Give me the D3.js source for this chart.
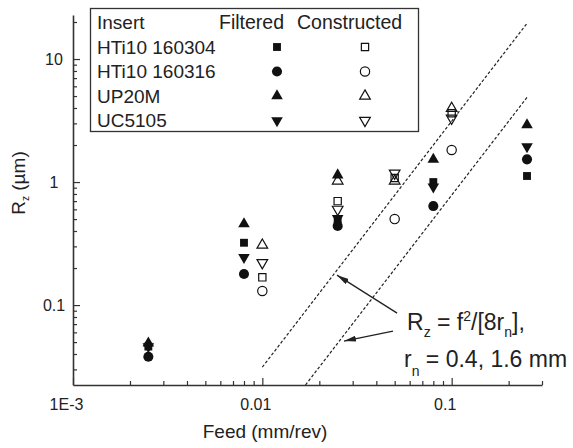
<!DOCTYPE html>
<html>
<head>
<meta charset="utf-8">
<script src="https://cdn.jsdelivr.net/npm/d3@7"></script>
<style>
  body { margin: 0; background: #fff; }
  text { font-family: "Liberation Sans", Arial, sans-serif; fill: #222; }
</style>
</head>
<body>
<svg id="chart" width="573" height="448"></svg>
<script>
// data
const inserts = ["HTi10 160304", "HTi10 160316", "UP20M", "UC5105"];

// filtered (solid markers)
const feedFiltered = [0.0025, 0.008, 0.025, 0.08, 0.25];
const rzFiltered160304 = [0.046, 0.321, 0.50, 1.00, 1.12];
const rzFiltered160316 = [0.038, 0.179, 0.44, 0.638, 1.53];
const rzFilteredUP20M  = [0.049, 0.456, 1.14, 1.53, 2.91];
const rzFilteredUC5105 = [0.046, 0.244, 0.507, 0.916, 1.94];

// constructed (open markers)
const feedConstructed = [0.01, 0.025, 0.05, 0.1];
const rzConstructed160304 = [0.168, 0.70, 1.08, 3.62];
const rzConstructed160316 = [0.130, null, 0.50, 1.82];
const rzConstructedUP20M  = [0.307, 1.02, 1.02, 3.97];
const rzConstructedUC5105 = [0.221, 0.60, 1.18, 3.30];

// model lines Rz = f^2/[8rn], end points
const lineFeed04 = [0.01, 0.25];
const lineRz04   = [0.0313, 19.5];
const lineFeed16 = [0.0169, 0.25];
const lineRz16   = [0.0224, 4.88];

// axis ticks
const xMajor = [0.001, 0.01, 0.1];
const xTickLabels = ["1E-3", "0.01", "0.1"];
const yMajor = [0.1, 1, 10];
const yTickLabels = ["0.1", "1", "10"];

var svg = d3.select("#chart");

var x = d3.scaleLog().domain([0.001, 0.3]).range([73, 542]);
var y = d3.scaleLog().domain([0.0224, 22.8]).range([385, 15]);

//minor ticks
var xMinor = [], yMinor = [];
[0.001, 0.01, 0.1].forEach(function(dec){
    for (var k = 2; k <= 9; k++) if (k * dec <= 0.3001) xMinor.push(k * dec);
});
[0.01, 0.1, 1, 10].forEach(function(dec){
    for (var k = 2; k <= 9; k++) {
        var v = k * dec;
        if (v >= 0.0224 && v <= 22.8) yMinor.push(v);
    }
});

//x axis
svg.append("g")
    .attr("transform", "translate(0,385)")
    .call(d3.axisBottom(x).tickValues(xMinor).tickFormat("").tickSize(-4).tickSizeOuter(0))
    .call(g => g.select(".domain").remove());

var xAxisGroup = svg.append("g")
    .attr("transform", "translate(0,385)")
    .call(d3.axisBottom(x).tickValues(xMajor).tickFormat((d, i) => xTickLabels[i])
        .tickSize(-7).tickSizeOuter(0).tickPadding(14));
xAxisGroup.selectAll("text").attr("dx", -7).attr("font-size", "16px")
    .attr("font-family", null).style("fill", "#222");

//y axis
svg.append("g")
    .attr("transform", "translate(73,0)")
    .call(d3.axisLeft(y).tickValues(yMinor).tickFormat("").tickSize(-4).tickSizeOuter(0))
    .call(g => g.select(".domain").remove());

var yAxisGroup = svg.append("g")
    .attr("transform", "translate(73,0)")
    .call(d3.axisLeft(y).tickValues(yMajor).tickFormat((d, i) => yTickLabels[i])
        .tickSize(-7).tickSizeOuter(0));
yAxisGroup.selectAll("text").attr("x", -19).attr("text-anchor", "middle")
    .attr("font-size", "16px").attr("font-family", null).style("fill", "#222");

svg.selectAll(".domain").attr("stroke", "#333").attr("stroke-width", 1.6);
svg.selectAll(".tick line").attr("stroke", "#333").attr("stroke-width", 1.2);

//axis titles
svg.append("text")
    .attr("x", 265)
    .attr("y", 438)
    .attr("font-size", "19px")
    .attr("text-anchor", "middle")
    .text("Feed (mm/rev)");

var yTitle = svg.append("text")
    .attr("transform", "translate(25,183) rotate(-90)")
    .attr("font-size", "19px")
    .attr("text-anchor", "middle");
yTitle.append("tspan").text("R");
yTitle.append("tspan").attr("font-size", "10px").attr("dy", 4).text("z");
yTitle.append("tspan").attr("dy", -4).text(" (\u00b5m)");

//model lines
var modelLines = [
    {feed: lineFeed04, rz: lineRz04},
    {feed: lineFeed16, rz: lineRz16}
];
var line = d3.line().x(d => x(d[0])).y(d => y(d[1]));
svg.selectAll(".model")
    .data(modelLines)
    .enter()
    .append("path")
    .attr("class", "model")
    .attr("d", d => line(d.feed.map((f, i) => [f, d.rz[i]])))
    .attr("fill", "none")
    .attr("stroke", "#222")
    .attr("stroke-width", 1.2)
    .attr("stroke-dasharray", "3,2");

//arrows
svg.append("defs").append("marker")
    .attr("id", "head")
    .attr("viewBox", "0 0 12 6")
    .attr("refX", 12)
    .attr("refY", 3)
    .attr("markerWidth", 12)
    .attr("markerHeight", 6)
    .attr("markerUnits", "userSpaceOnUse")
    .attr("orient", "auto")
    .append("path")
    .attr("d", "M0,0 L12,3 L0,6 Z")
    .attr("fill", "#222");

var arrows = [
    {from: [0.0515, 0.086], to: [0.0248, 0.175]},
    {from: [0.049, 0.0615], to: [0.027, 0.051]}
];
svg.selectAll(".arrow")
    .data(arrows)
    .enter()
    .append("line")
    .attr("class", "arrow")
    .attr("x1", d => x(d.from[0]))
    .attr("y1", d => y(d.from[1]))
    .attr("x2", d => x(d.to[0]))
    .attr("y2", d => y(d.to[1]))
    .attr("stroke", "#222")
    .attr("stroke-width", 1.3)
    .attr("marker-end", "url(#head)");

//annotation text
var note1 = svg.append("text")
    .attr("x", 407)
    .attr("y", 330)
    .attr("font-size", "23px");
note1.append("tspan").text("R");
note1.append("tspan").attr("font-size", "14px").attr("dy", 7).text("z");
note1.append("tspan").attr("dy", -7).text(" = f");
note1.append("tspan").attr("font-size", "14px").attr("dy", -9).text("2");
note1.append("tspan").attr("dy", 9).text("/[8r");
note1.append("tspan").attr("font-size", "14px").attr("dy", 7).text("n");
note1.append("tspan").attr("dy", -7).text("],");

var note2 = svg.append("text")
    .attr("x", 404)
    .attr("y", 367)
    .attr("font-size", "23px");
note2.append("tspan").text("r");
note2.append("tspan").attr("font-size", "14px").attr("dy", 9).text("n");
note2.append("tspan").attr("dy", -9).text(" = 0.4, 1.6 mm");

//markers
var symbolShapes = [d3.symbolSquare, d3.symbolCircle, d3.symbolTriangle, d3.symbolTriangle];
var symbolSizes = [62, 80, 58, 58];
var symbolRotate = [0, 0, 0, 180];

var filteredSeries = [rzFiltered160304, rzFiltered160316, rzFilteredUP20M, rzFilteredUC5105];
var constructedSeries = [rzConstructed160304, rzConstructed160316, rzConstructedUP20M, rzConstructedUC5105];

function markerPath(i, open) {
    return d3.symbol().type(symbolShapes[i]).size(open ? symbolSizes[i] * 0.85 : symbolSizes[i])();
}

var points = [];
constructedSeries.forEach(function(vals, i){
    vals.forEach(function(v, j){
        if (v != null) points.push({feed: feedConstructed[j], rz: v, s: i, open: true});
    });
});
filteredSeries.forEach(function(vals, i){
    vals.forEach(function(v, j){
        if (v != null) points.push({feed: feedFiltered[j], rz: v, s: i, open: false});
    });
});

svg.selectAll(".pt")
    .data(points)
    .enter()
    .append("path")
    .attr("class", "pt")
    .attr("d", d => markerPath(d.s, d.open))
    .attr("transform", d => `translate(${x(d.feed)},${y(d.rz)}) rotate(${symbolRotate[d.s]})`)
    .attr("fill", d => d.open ? "none" : "#111")
    .attr("stroke", "#111")
    .attr("stroke-width", d => d.open ? 1.2 : 0);

//legend
var legend = svg.append("g");
legend.append("rect")
    .attr("x", 90.5)
    .attr("y", 8.5)
    .attr("width", 328)
    .attr("height", 123)
    .attr("fill", "#fff")
    .attr("stroke", "#333")
    .attr("stroke-width", 1.3);

legend.append("text").attr("x", 97).attr("y", 29).attr("font-size", "19px").text("Insert");
legend.append("text").attr("x", 219).attr("y", 29).attr("font-size", "19.5px").text("Filtered");
legend.append("text").attr("x", 297).attr("y", 29).attr("font-size", "19.5px").text("Constructed");

inserts.forEach(function(name, i){
    var base = 53.5 + i * 24.5;
    legend.append("text").attr("x", 97).attr("y", base).attr("font-size", "19px").text(name);
    legend.append("path")
        .attr("d", markerPath(i, false))
        .attr("transform", `translate(277,${base - 6.5}) rotate(${symbolRotate[i]})`)
        .attr("fill", "#111");
    legend.append("path")
        .attr("d", markerPath(i, true))
        .attr("transform", `translate(365,${base - 6.5}) rotate(${symbolRotate[i]})`)
        .attr("fill", "none")
        .attr("stroke", "#111")
        .attr("stroke-width", 1.2);
});
</script>
</body>
</html>
